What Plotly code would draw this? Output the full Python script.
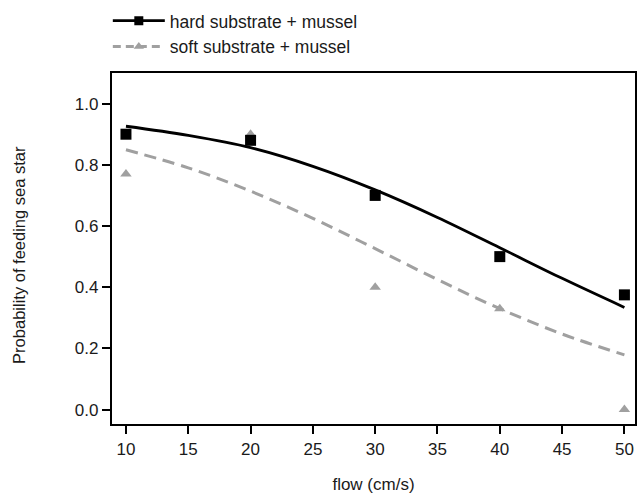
import plotly.graph_objects as go

# Observed proportions of feeding sea stars at each flow speed
flow = [10, 20, 30, 40, 50]
hard_obs = [0.90, 0.88, 0.70, 0.50, 0.375]
soft_obs = [0.77, 0.90, 0.40, 0.33, 0.0]

# Fitted logistic curves, sampled every 5 cm/s
curve_flow = [10, 15, 20, 25, 30, 35, 40, 45, 50]
hard_fit = [0.926, 0.896, 0.856, 0.795, 0.718, 0.628, 0.529, 0.429, 0.334]
soft_fit = [0.849, 0.790, 0.714, 0.625, 0.526, 0.425, 0.330, 0.247, 0.179]

x_ticks = [10, 15, 20, 25, 30, 35, 40, 45, 50]
y_ticks = [0.0, 0.2, 0.4, 0.6, 0.8, 1.0]

BLACK = "#000000"
GREY = "#a0a0a0"
TEXT = "#1a1a1a"
FONT = "Arial"

fig = go.Figure()

# fitted curves
fig.add_trace(go.Scatter(x=curve_flow, y=soft_fit, mode="lines", line_shape="spline",
                         line=dict(color=GREY, width=3, dash="12px,7px"), showlegend=False))
fig.add_trace(go.Scatter(x=curve_flow, y=hard_fit, mode="lines", line_shape="spline",
                         line=dict(color=BLACK, width=2.8), showlegend=False))

# observed points
fig.add_trace(go.Scatter(x=flow, y=soft_obs, mode="markers",
                         marker=dict(symbol="triangle-up", size=10, color=GREY),
                         showlegend=False, cliponaxis=False))
fig.add_trace(go.Scatter(x=flow, y=hard_obs, mode="markers",
                         marker=dict(symbol="square", size=11, color=BLACK),
                         showlegend=False, cliponaxis=False))

# legend entries
fig.add_trace(go.Scatter(x=[None], y=[None], mode="lines+markers", name="hard substrate + mussel",
                         line=dict(color=BLACK, width=2.8),
                         marker=dict(symbol="square", size=9, color=BLACK)))
fig.add_trace(go.Scatter(x=[None], y=[None], mode="lines+markers", name="soft substrate + mussel",
                         line=dict(color=GREY, width=3, dash="8px,5px"),
                         marker=dict(symbol="triangle-up", size=9, color=GREY)))

axis_common = dict(
    showgrid=False, zeroline=False, showline=True, linecolor=BLACK, linewidth=2.2,
    mirror=True, ticks="outside", ticklen=8, tickwidth=2.2, tickcolor=BLACK,
    tickfont=dict(family=FONT, size=17, color=TEXT),
)

fig.update_xaxes(range=[8.88, 50.85], tickvals=x_ticks, ticktext=[str(v) for v in x_ticks],
                 title=dict(text="flow (cm/s)", font=dict(family=FONT, size=17, color=TEXT),
                            standoff=21),
                 **axis_common)
fig.update_yaxes(range=[-0.047, 1.1], tickvals=y_ticks, ticktext=[f"{v:.1f}" for v in y_ticks],
                 **axis_common)

# y-axis title placed as a rotated annotation
fig.add_annotation(text="Probability of feeding sea star", textangle=-90,
                   xref="paper", yref="paper", x=-0.177, y=0.483,
                   xanchor="center", yanchor="middle", showarrow=False,
                   font=dict(family=FONT, size=16.5, color=TEXT))

fig.update_layout(
    width=640, height=494,
    margin=dict(l=112, r=3, t=73, b=69),
    paper_bgcolor="white", plot_bgcolor="white",
    legend=dict(x=-0.008, y=1.2, xanchor="left", yanchor="top",
                font=dict(family=FONT, size=17.5, color=TEXT),
                bgcolor="rgba(0,0,0,0)", itemwidth=52, tracegroupgap=0),
)

fig.write_html("out.html")
